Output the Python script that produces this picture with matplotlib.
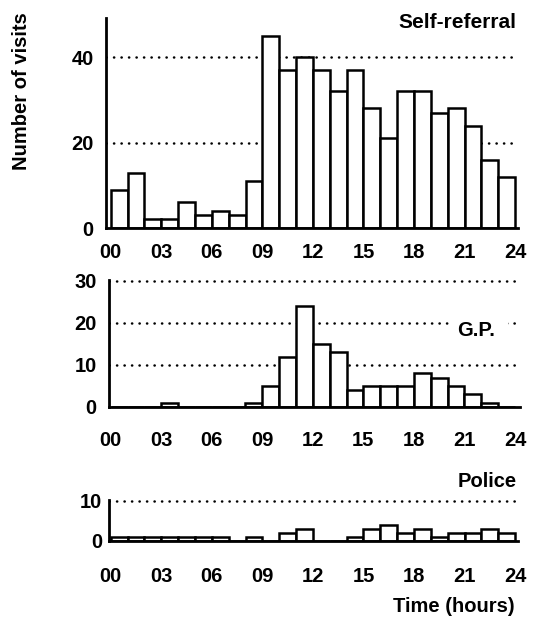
import matplotlib
matplotlib.use("Agg")
import matplotlib.pyplot as plt
from matplotlib.patches import Rectangle

plt.rcParams['font.family'] = ['Liberation Sans', 'DejaVu Sans']
plt.rcParams['font.weight'] = 'bold'

# visits per hour of arrival (00-01, 01-02, ... 23-24)
hours = list(range(24))
self_referral = [9, 13, 2, 2, 6, 3, 4, 3, 11, 45, 37, 40, 37, 32, 37, 28,
                 21, 32, 32, 27, 28, 24, 16, 12]
gp = [0, 0, 0, 1, 0, 0, 0, 0, 1, 5, 12, 24, 15, 13, 4, 5,
      5, 5, 8, 7, 5, 3, 1, 0]
police = [1, 1, 1, 1, 1, 1, 1, 0, 1, 0, 2, 3, 0, 0, 1, 3,
          4, 2, 3, 1, 2, 2, 3, 2]
xticks = [0, 3, 6, 9, 12, 15, 18, 21, 24]
xticklabels = ['00', '03', '06', '09', '12', '15', '18', '21', '24']

W, H = 536, 622
FS = 14.5
fig = plt.figure(figsize=(W / 100, H / 100), dpi=100)


def px_rect(left, top, right, bottom):
    return [left / W, 1 - bottom / H, (right - left) / W, (bottom - top) / H]


def panel(rect, values, xlim, ylim, yticks, xpad, ypad):
    ax = fig.add_axes(rect)
    for y in yticks[1:]:
        ax.axhline(y, color='black', lw=1.8, ls=(0, (0.1, 2.9)),
                   dash_capstyle='round', zorder=1)
    ax.bar(hours, values, width=1, align='edge', color='white',
           edgecolor='black', linewidth=1.8, zorder=2)
    ax.set_xlim(*xlim)
    ax.set_ylim(*ylim)
    ax.set_xticks(xticks)
    ax.set_xticklabels(xticklabels)
    ax.set_yticks(yticks)
    ax.tick_params(length=0, labelsize=FS)
    ax.tick_params(axis='x', pad=xpad)
    ax.tick_params(axis='y', pad=ypad)
    for s in ['top', 'right']:
        ax.spines[s].set_visible(False)
    for s in ['left', 'bottom']:
        ax.spines[s].set_linewidth(2)
        ax.spines[s].set_zorder(3)
    ax.patch.set_alpha(0)
    return ax


ax1 = panel(px_rect(106, 18, 518, 228), self_referral, (-0.28, 24.17),
            (0, 49.2), [0, 20, 40], 11, 9)
ax1.text(24.1, 48.2, 'Self-referral', ha='right', va='center', fontsize=15)

ax2 = panel(px_rect(109, 280, 520, 407), gp, (-0.1, 24.3),
            (0, 30.2), [0, 10, 20, 30], 17, 9)
ax2.add_patch(Rectangle((20.3, 18.0), 3.3, 3.8, facecolor='white',
                        edgecolor='none', zorder=1.5))
ax2.text(20.55, 18.3, 'G.P.', ha='left', va='center', fontsize=FS, zorder=4)

ax3 = panel(px_rect(109, 500, 518, 541), police, (-0.1, 24.17),
            (0, 10.2), [0, 10], 19, 5)
ax3.text(24.1, 14.8, 'Police', ha='right', va='center', fontsize=FS,
         clip_on=False)

fig.text(22 / W, 1 - 91 / H, 'Number of visits', rotation=90,
         ha='center', va='center', fontsize=FS)
fig.text(515 / W, 1 - 607 / H, 'Time (hours)', ha='right', va='center',
         fontsize=FS)

fig.savefig('out.png', dpi=100)
